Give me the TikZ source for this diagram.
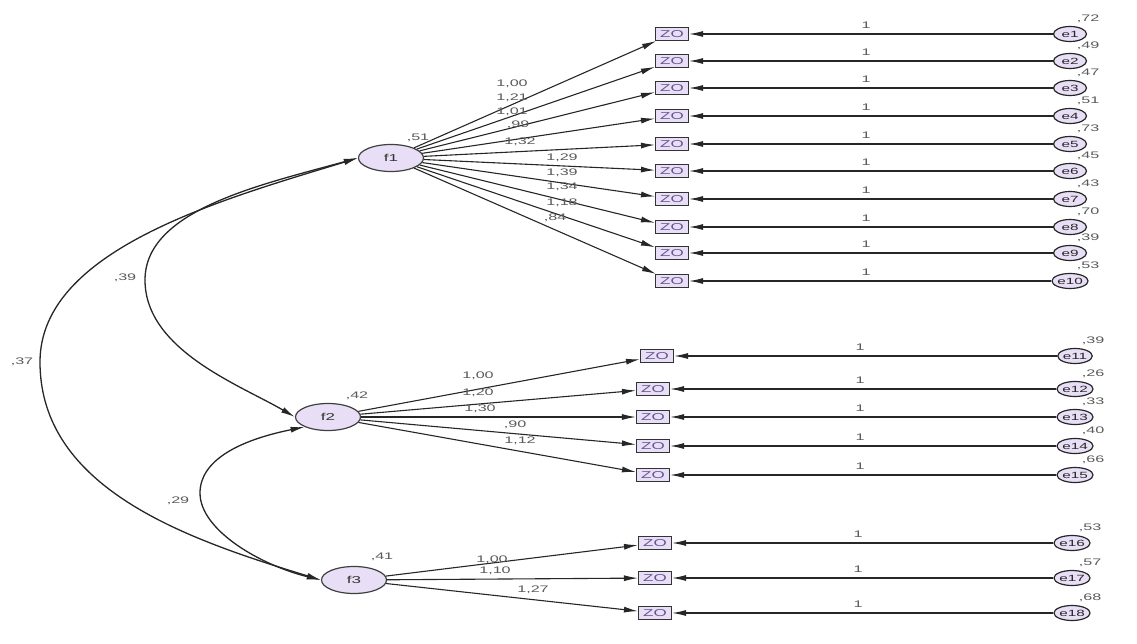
\documentclass[tikz,border=0pt]{standalone}
\usepackage{fontspec}
\setmainfont{Liberation Sans}
\usepackage{graphicx}
\usetikzlibrary{shapes.geometric,arrows.meta}
\definecolor{lav}{RGB}{232,222,246}
\definecolor{txt}{RGB}{90,90,90}
\definecolor{boxtxt}{RGB}{100,85,145}
\newcommand\sx[1]{\scalebox{1.7}[1]{#1}}
\tikzset{
  fac/.style={ellipse, draw=black!75, fill=lav, line width=1.2pt, minimum width=65pt, minimum height=27pt, inner sep=0pt, font=\fontsize{10}{10}\selectfont, text=black!80},
  obs/.style={rectangle, draw=black!80, fill=lav, line width=1.1pt, minimum width=33pt, minimum height=13pt, inner sep=0pt, font=\fontsize{10}{10}\selectfont, text=boxtxt},
  err/.style={ellipse, draw=black!85, fill=lav, line width=1.2pt, minimum width=33pt, minimum height=15pt, inner sep=0pt, font=\fontsize{9}{9}\selectfont, text=black!85},
  lab/.style={inner sep=0pt, font=\fontsize{9.5}{9.5}\selectfont, text=txt},
  arr/.style={-{Latex[length=14pt,width=6pt]}, line width=1.1pt, draw=black!85},
  dbl/.style={{Latex[length=14pt,width=6pt]}-{Latex[length=14pt,width=6pt]}, line width=1.3pt, draw=black!85}
}
\begin{document}
\begin{tikzpicture}[x=1pt,y=-1pt]
\useasboundingbox (0,0) rectangle (1137,644);
% factors
\node[fac] (f1) at (391,158) {\sx{f1}};
\node[fac] (f2) at (328,417) {\sx{f2}};
\node[fac] (f3) at (354,580) {\sx{f3}};
\node[lab] (v1) at (418,138) {\sx{,51}};
\node[lab] (v2) at (357,396) {\sx{,42}};
\node[lab] (v3) at (382,557) {\sx{,41}};
% group 1
\foreach \i/\y/\ld/\lx/\ly/\v in {1/34/{1,00}/512/84/{,72},2/61/{1,21}/512/98/{,49},3/88/{1,01}/512/112/{,47},4/116/{,99}/518/125/{,51},5/144/{1,32}/520/142/{,73},6/171/{1,29}/562/158/{,45},7/199/{1,39}/562/173/{,43},8/227/{1,34}/562/187/{,70},9/253/{1,18}/562/203/{,39},10/281/{,84}/555/218/{,53}}{
  \node[obs] (b\i) at (672,\y) {\sx{ZO}};
  \node[err] (e\i) at (1070,\y) {\sx{e\i}};
  \draw[arr] (f1) -- (b\i);
  \draw[arr] (e\i) -- (b\i);
  \node[lab] (l\i) at (\lx,\ly) {\sx{\ld}};
  \node[lab] (o\i) at (866,\y-9) {\sx{1}};
  \node[lab] (w\i) at (1088,\y-15) {\sx{\v}};
}
% group 2
\foreach \i/\y/\bx/\ld/\lx/\ly/\v in {11/356/657/{1,00}/478/376/{,39},12/389/653/{1,20}/478/393/{,26},13/417/653/{1,30}/480/409/{,33},14/446/653/{,90}/515/425/{,40},15/475/653/{1,12}/520/441/{,66}}{
  \node[obs] (b\i) at (\bx,\y) {\sx{ZO}};
  \node[err] (e\i) at (1075,\y) {\sx{e\i}};
  \draw[arr] (f2) -- (b\i);
  \draw[arr] (e\i) -- (b\i);
  \node[lab] (l\i) at (\lx,\ly) {\sx{\ld}};
  \node[lab] (o\i) at (860,\y-9) {\sx{1}};
  \node[lab] (w\i) at (1093,\y-15) {\sx{\v}};
}
% group 3
\foreach \i/\y/\ld/\lx/\ly/\v in {16/543/{1,00}/492/560/{,53},17/578/{1,10}/495/571/{,57},18/613/{1,27}/533/590/{,68}}{
  \node[obs] (b\i) at (655,\y) {\sx{ZO}};
  \node[err] (e\i) at (1072,\y) {\sx{e\i}};
  \draw[arr] (f3) -- (b\i);
  \draw[arr] (e\i) -- (b\i);
  \node[lab] (l\i) at (\lx,\ly) {\sx{\ld}};
  \node[lab] (o\i) at (858,\y-9) {\sx{1}};
  \node[lab] (w\i) at (1090,\y-15) {\sx{\v}};
}
% covariances
\coordinate (m12) at (145,280);
\coordinate (m13) at (40,362);
\coordinate (m23) at (200,493);
\draw[dbl] (f1.west) .. controls (260,185) and (145,210) .. (m12) .. controls (145,350) and (240,385) .. (f2.west);
\draw[dbl] (f1.west) .. controls (220,200) and (40,250) .. (m13) .. controls (40,490) and (190,540) .. (f3.west);
\draw[dbl] (f2.south west) .. controls (240,440) and (200,460) .. (m23) .. controls (200,530) and (260,565) .. (f3.west);
\node[lab] (c12) at (125,278) {\sx{,39}};
\node[lab] (c13) at (22,362) {\sx{,37}};
\node[lab] (c23) at (178,501) {\sx{,29}};
\end{tikzpicture}
\end{document}
